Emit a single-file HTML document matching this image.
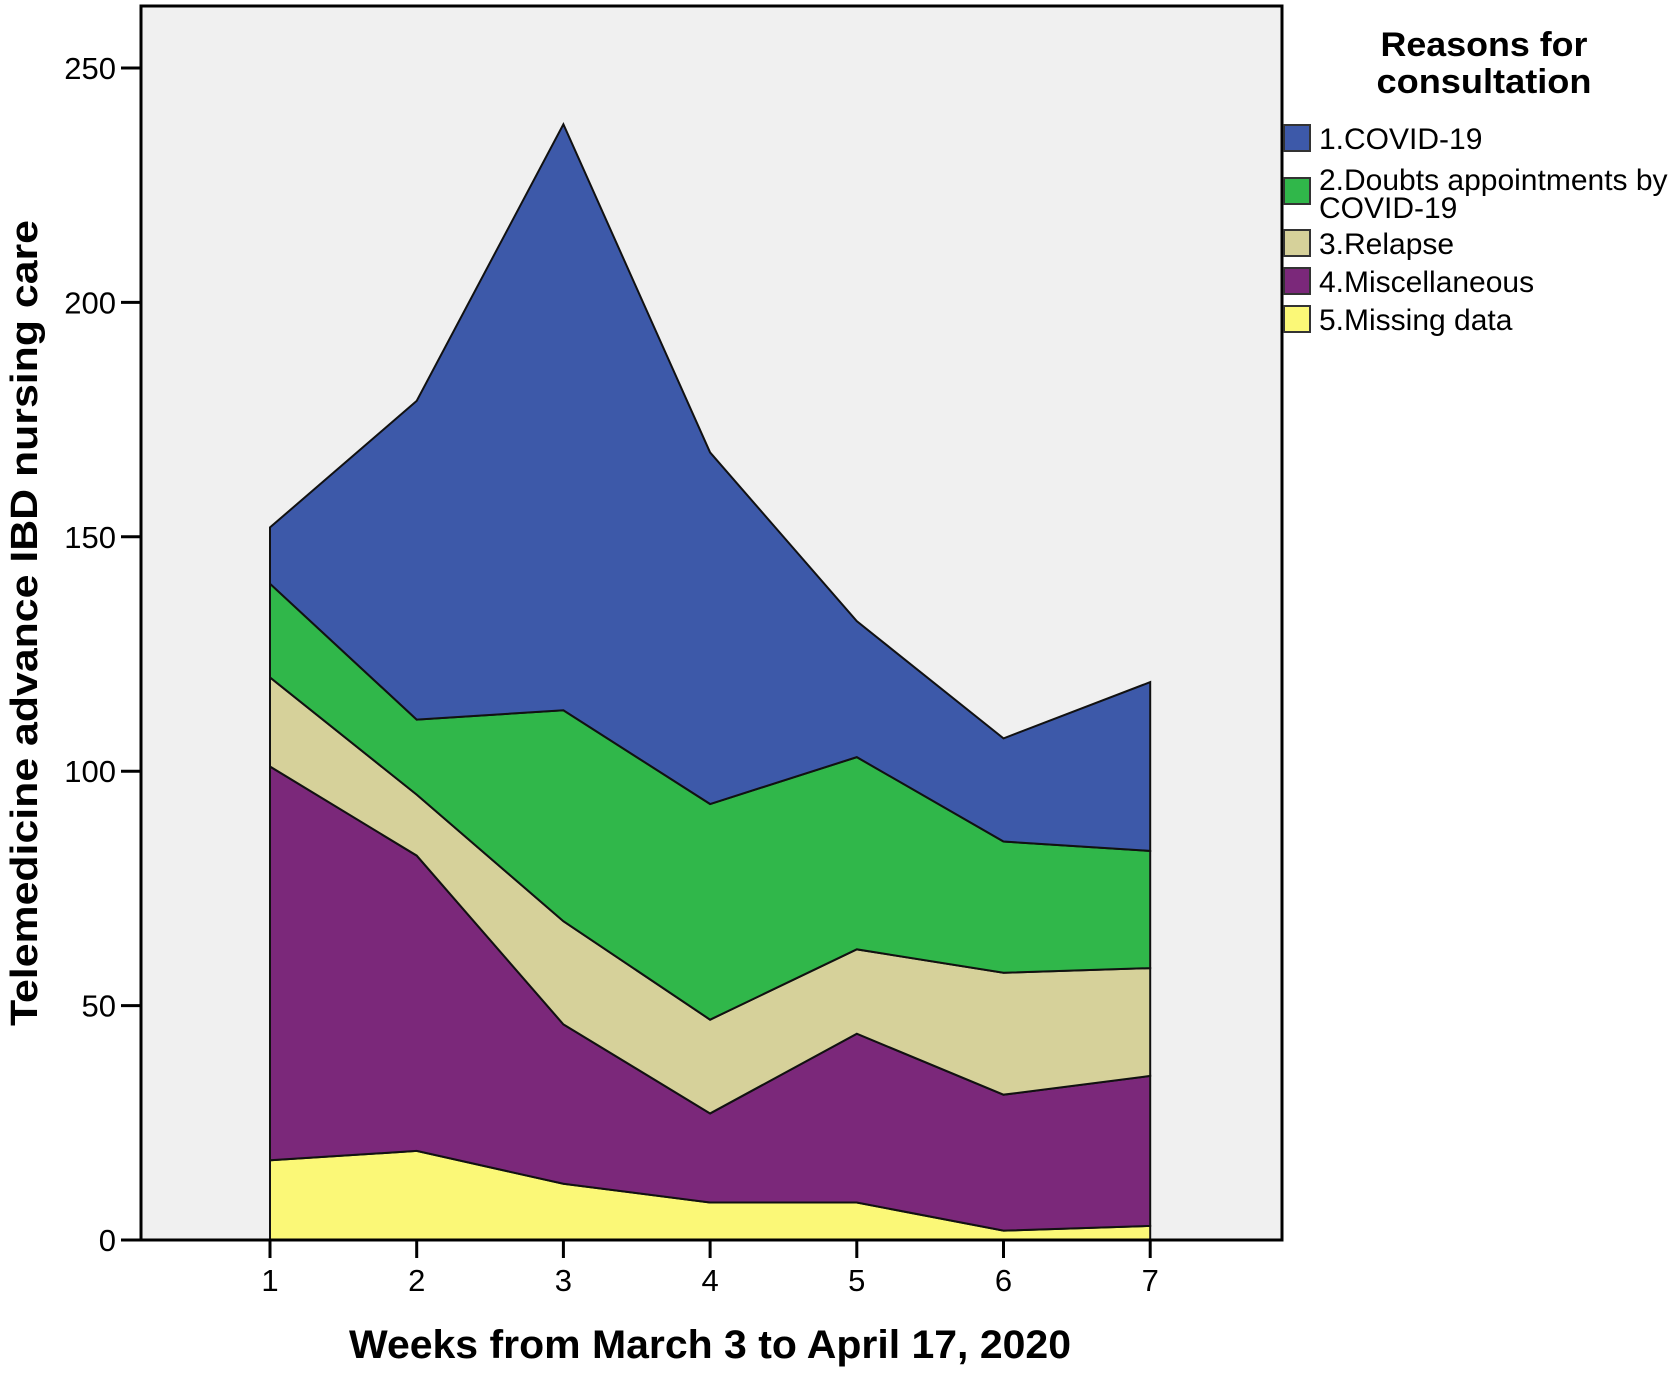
<!DOCTYPE html>
<html><head><meta charset="utf-8"><style>
body{margin:0;background:#fff;}
svg text{font-family:"Liberation Sans",Arial,sans-serif;}
</style></head><body>
<svg id="chart" width="1675" height="1374" viewBox="0 0 1675 1374">
<rect x="141" y="6" width="1141" height="1234" fill="#f0f0f0" stroke="#000" stroke-width="3"/>
<g id="areas"></g>
<g id="axes"></g>
<text transform="translate(37,623) rotate(-90)" text-anchor="middle" font-size="38" font-weight="bold" textLength="806" lengthAdjust="spacingAndGlyphs">Telemedicine  advance IBD nursing care</text>
<text x="710" y="1358" text-anchor="middle" font-size="40" font-weight="bold" textLength="722" lengthAdjust="spacingAndGlyphs">Weeks from March 3 to April 17, 2020</text>
<g>
<text x="1484" y="56" text-anchor="middle" font-size="34" font-weight="bold" textLength="207" lengthAdjust="spacingAndGlyphs">Reasons for</text>
<text x="1484" y="93" text-anchor="middle" font-size="34" font-weight="bold" textLength="215" lengthAdjust="spacingAndGlyphs">consultation</text>
<g id="legend"></g>
</g>
</svg>
<script>
const weeks = [1,2,3,4,5,6,7];
const missing = [17,19,12,8,8,2,3];
const misc = [84,63,34,19,36,29,32];
const relapse = [19,13,22,20,18,26,23];
const doubts = [20,16,45,46,41,28,25];
const covid = [12,68,125,75,29,22,36];
const yTicks = [0,50,100,150,200,250];
const seriesNames = ["1.COVID-19","2.Doubts appointments by","3.Relapse","4.Miscellaneous","5.Missing data"];

const NS="http://www.w3.org/2000/svg";
const x = w => 270 + (w-1)*146.7;
const y = v => 1240 - v*4.688;
function mk(tag, attrs, parent){const e=document.createElementNS(NS,tag);for(const k in attrs)e.setAttribute(k,attrs[k]);parent.appendChild(e);return e;}

const stack=[
 {vals:missing,color:"#fbf877",name:"area-missing-data"},
 {vals:misc,color:"#7b287a",name:"area-miscellaneous"},
 {vals:relapse,color:"#d6d19a",name:"area-relapse"},
 {vals:doubts,color:"#30b74a",name:"area-doubts-appointments"},
 {vals:covid,color:"#3d59a9",name:"area-covid-19"}
];
const areas=document.getElementById('areas');
let base=weeks.map(()=>0);
stack.forEach(s=>{
  const top=base.map((b,i)=>b+s.vals[i]);
  let pts=weeks.map((w,i)=>x(w)+","+y(top[i]));
  for(let i=weeks.length-1;i>=0;i--)pts.push(x(weeks[i])+","+y(base[i]));
  const p=mk('polygon',{points:pts.join(' '),fill:s.color,stroke:"#111","stroke-width":2},areas);
  
  
  base=top;
});

const axes=document.getElementById('axes');
mk('line',{x1:141,y1:1240,x2:1282,y2:1240,stroke:"#000","stroke-width":3},axes);
yTicks.forEach(t=>{
  mk('line',{x1:121,y1:y(t),x2:141,y2:y(t),stroke:"#000","stroke-width":3},axes);
  const tx=mk('text',{x:116,y:y(t)+11,"text-anchor":"end","font-size":31},axes);
  tx.textContent=t;
  
  
});
weeks.forEach(w=>{
  mk('line',{x1:x(w),y1:1240,x2:x(w),y2:1258,stroke:"#000","stroke-width":3},axes);
  const tx=mk('text',{x:x(w),y:1291,"text-anchor":"middle","font-size":31},axes);
  tx.textContent=w;
  
  
});

const leg=document.getElementById('legend');
const legColors=["#3d59a9","#30b74a","#d6d19a","#7b287a","#fbf877"];
const legY=[125,178,230,268,306];
legColors.forEach((c,i)=>{
  const r=mk('rect',{x:1284,y:legY[i],width:26,height:26,fill:c,stroke:"#333","stroke-width":2},leg);
  
  
  const t=mk('text',{x:1319,y:legY[i]+24 - (i==1?12:0),"font-size":30},leg);
  t.textContent=seriesNames[i];
  
  
});
const t2=mk('text',{x:1319,y:218,"font-size":30},leg);
t2.textContent="COVID-19";


</script>
</body></html>
